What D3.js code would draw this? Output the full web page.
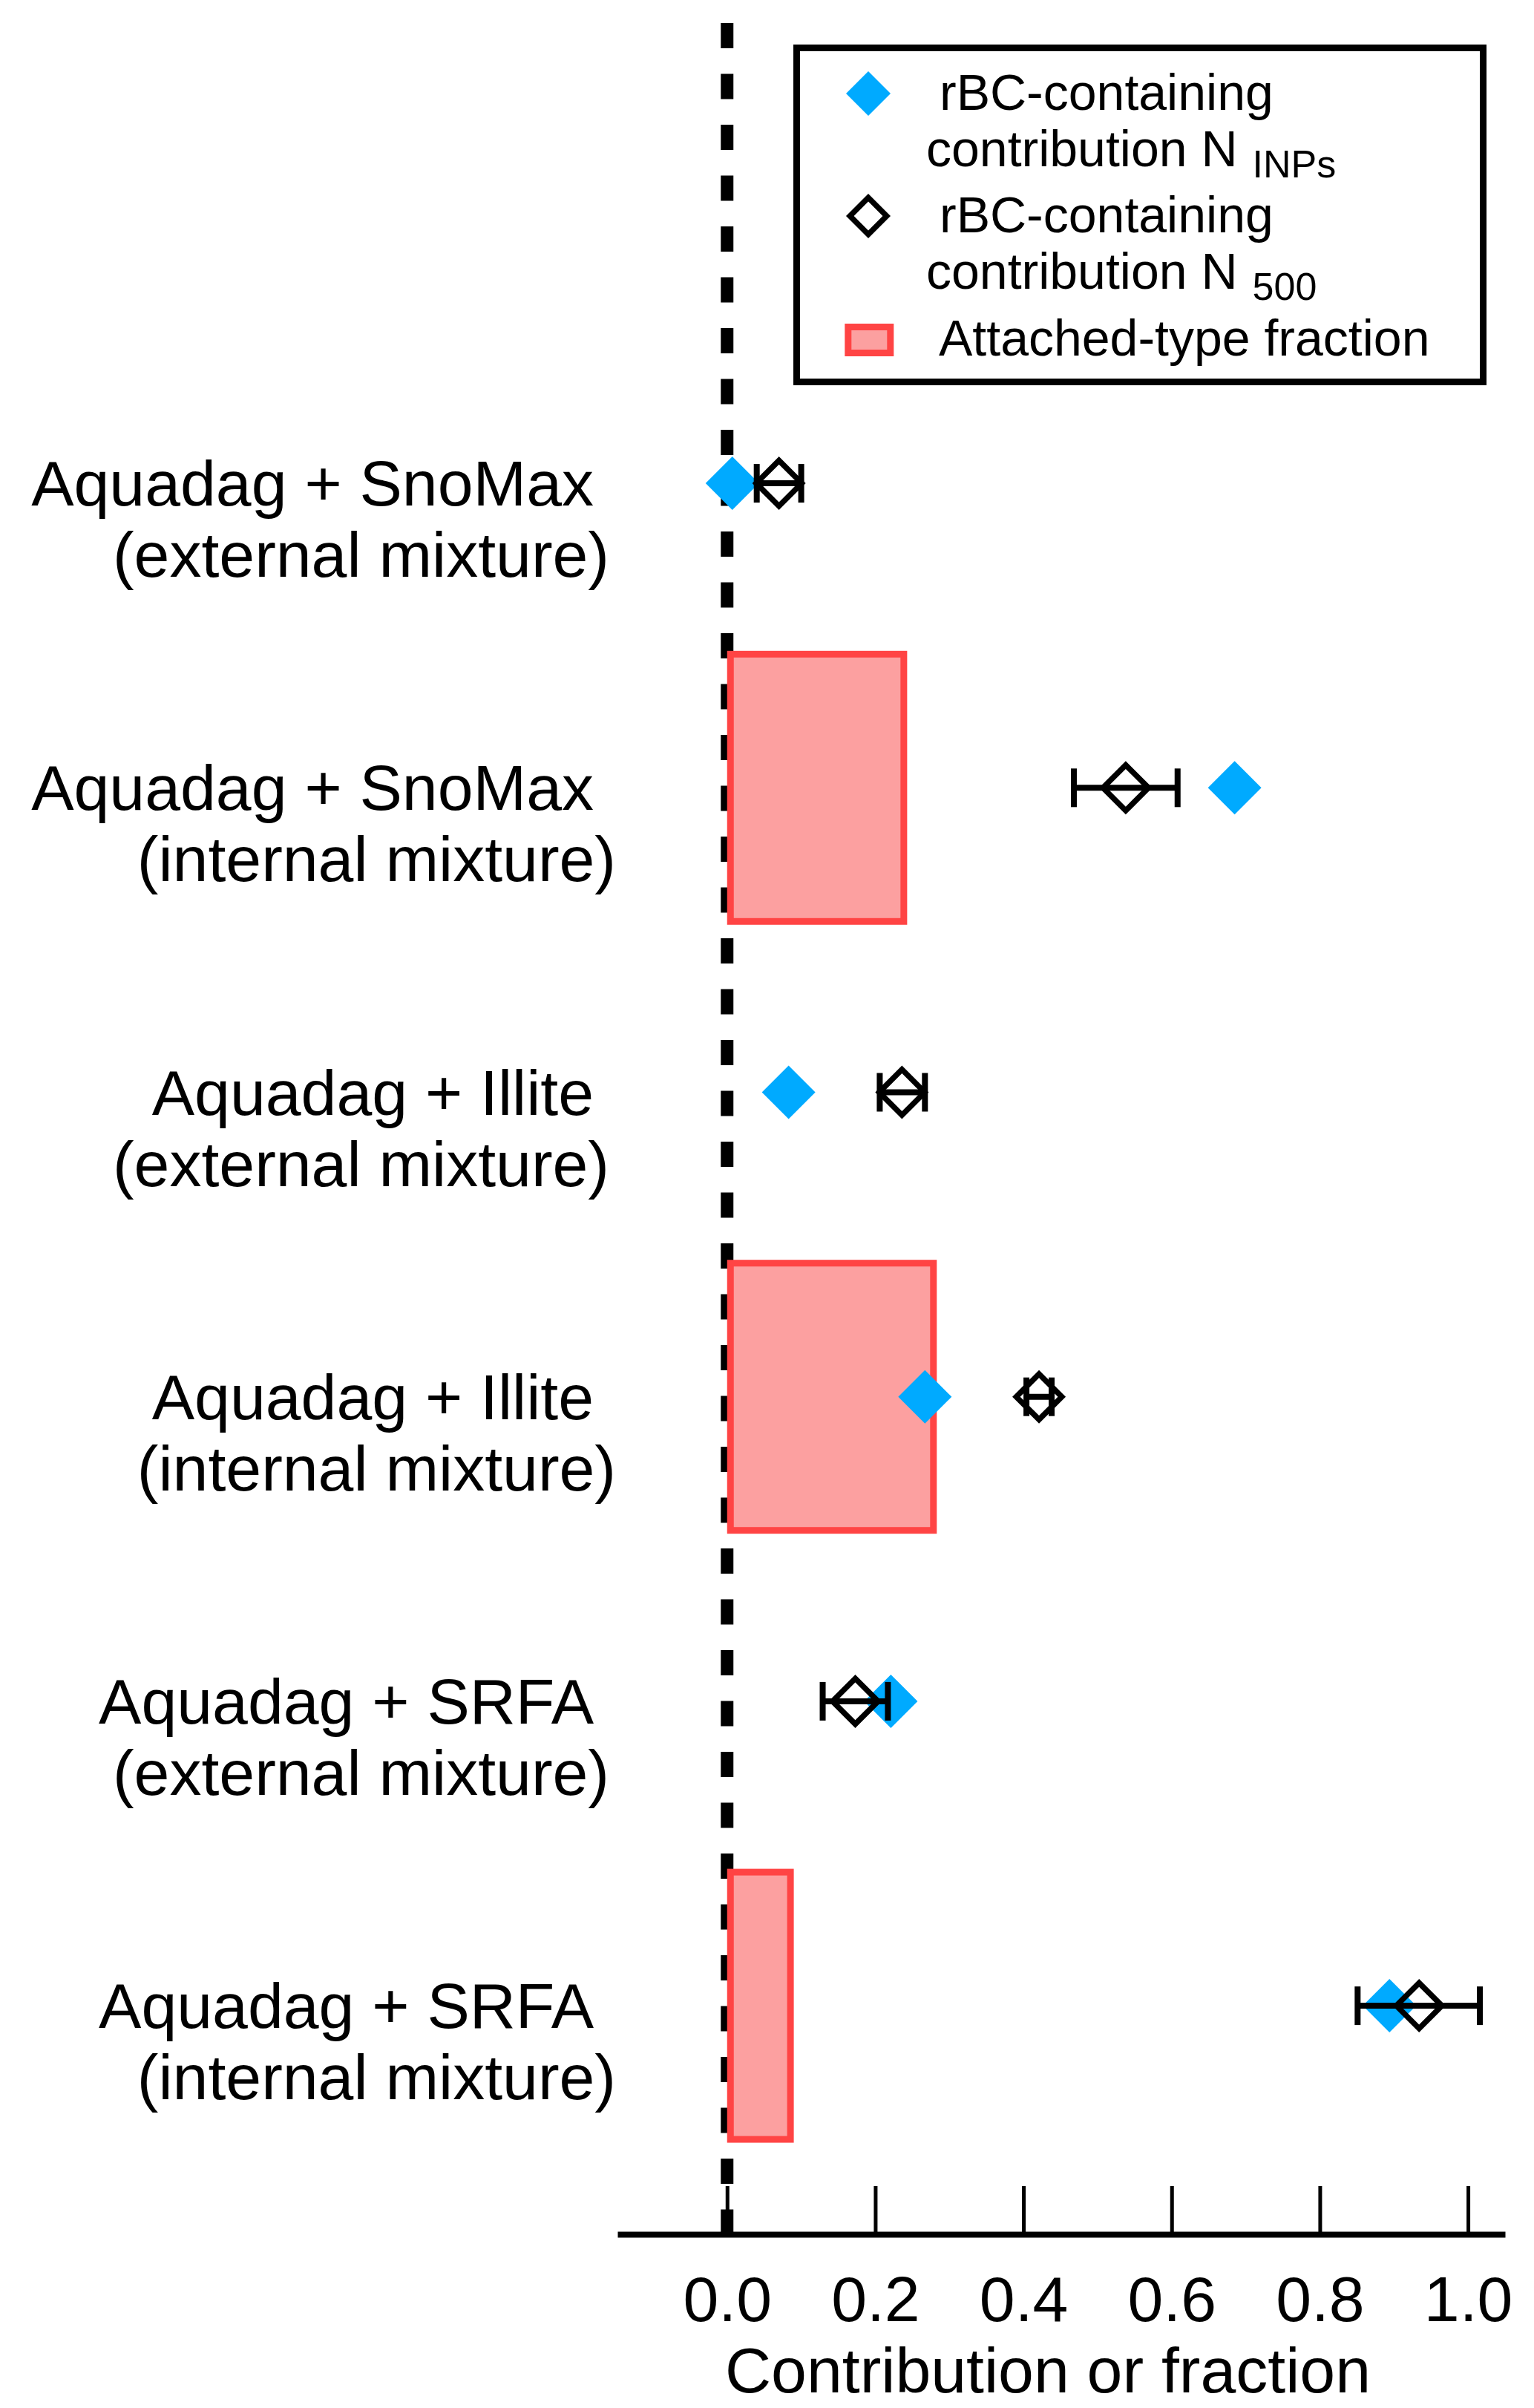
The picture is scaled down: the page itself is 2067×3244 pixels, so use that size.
<!DOCTYPE html>
<html>
<head>
<meta charset="utf-8">
<script src="https://cdn.jsdelivr.net/npm/d3@7"></script>
<style>
  body { margin: 0; background: #fff; }
  text { font-family: "Liberation Sans", Arial, sans-serif; fill: #000; }
</style>
</head>
<body>
<svg id="chart" width="2067" height="3244"></svg>
<script>
// values
var mixtures = ["Aquadag + SnoMax", "Aquadag + SnoMax", "Aquadag + Illite",
                "Aquadag + Illite", "Aquadag + SRFA", "Aquadag + SRFA"];
var mixingState = ["(external mixture)", "(internal mixture)", "(external mixture)",
                   "(internal mixture)", "(external mixture)", "(internal mixture)"];
var categories = mixtures.map((m, i) => m + " " + mixingState[i]);

var inpContribution  = [0.007, 0.685, 0.083, 0.267, 0.221, 0.894];
var n500Contribution = [0.070, 0.538, 0.236, 0.421, 0.173, 0.934];
var n500Low          = [0.040, 0.468, 0.206, 0.404, 0.129, 0.851];
var n500High         = [0.100, 0.608, 0.267, 0.438, 0.217, 1.016];
var attachedFraction = [null, 0.243, null, 0.283, null, 0.090];

var xTicks = [0, 0.2, 0.4, 0.6, 0.8, 1.0];

var blue = "#00aaff",
    barStroke = "#ff4444",
    barFill = "#fca0a0";

var svg = d3.select("#chart");

var x = d3.scaleLinear().domain([-0.148, 1.05]).range([832, 2028]);
var y = d3.scaleBand().domain(categories).range([446, 2907.2]).padding(0);
var cy = d => y(d) + y.bandwidth() / 2;
var axisY = 3010;

var rows = categories.map((c, i) => ({
    cat: c, line1: mixtures[i], line2: mixingState[i],
    inp: inpContribution[i], n500: n500Contribution[i],
    lo: n500Low[i], hi: n500High[i], frac: attachedFraction[i]
}));

/******** zero line ********/
svg.append("line")
    .attr("x1", x(0)).attr("x2", x(0))
    .attr("y1", 31).attr("y2", axisY)
    .attr("stroke", "#000")
    .attr("stroke-width", 17)
    .attr("stroke-dasharray", "34 34.5");

/******** attached-type fraction bars ********/
var bw = 9;
svg.selectAll("rect.bar")
    .data(rows.filter(d => d.frac != null))
    .enter().append("rect")
    .attr("class", "bar")
    .attr("x", x(0) + bw / 2)
    .attr("y", d => cy(d.cat) - 184.5 + bw / 2)
    .attr("width", d => x(d.frac) - x(0) - bw)
    .attr("height", 369 - bw)
    .attr("fill", barFill)
    .attr("stroke", barStroke)
    .attr("stroke-width", bw);

/******** N_INPs markers ********/
var diamondFill = d3.symbol(d3.symbolSquare, 2592);
svg.selectAll("path.inp")
    .data(rows)
    .enter().append("path")
    .attr("class", "inp")
    .attr("d", diamondFill)
    .attr("transform", d => "translate(" + x(d.inp) + "," + cy(d.cat) + ") rotate(45)")
    .attr("fill", blue);

/******** N_500 error bars ********/
var err = svg.selectAll("g.err")
    .data(rows)
    .enter().append("g")
    .attr("class", "err")
    .attr("stroke", "#000")
    .attr("stroke-width", 8);

err.append("line")
    .attr("x1", d => x(d.lo)).attr("x2", d => x(d.hi))
    .attr("y1", d => cy(d.cat)).attr("y2", d => cy(d.cat));
err.append("line")
    .attr("x1", d => x(d.lo)).attr("x2", d => x(d.lo))
    .attr("y1", d => cy(d.cat) - 26).attr("y2", d => cy(d.cat) + 26);
err.append("line")
    .attr("x1", d => x(d.hi)).attr("x2", d => x(d.hi))
    .attr("y1", d => cy(d.cat) - 26).attr("y2", d => cy(d.cat) + 26);

/******** N_500 markers ********/
var diamondOpen = d3.symbol(d3.symbolSquare, 1885);
svg.selectAll("path.n500")
    .data(rows)
    .enter().append("path")
    .attr("class", "n500")
    .attr("d", diamondOpen)
    .attr("transform", d => "translate(" + x(d.n500) + "," + cy(d.cat) + ") rotate(45)")
    .attr("fill", "none")
    .attr("stroke", "#000")
    .attr("stroke-width", 7.5);

/******** category labels ********/
var labels = svg.selectAll("g.cat")
    .data(rows)
    .enter().append("g")
    .attr("class", "cat")
    .attr("font-size", 86)
    .attr("text-anchor", "end");
labels.append("text")
    .attr("x", 800)
    .attr("y", d => cy(d.cat) + 30)
    .text(d => d.line1);
labels.append("text")
    .attr("x", d => d.line2.indexOf("internal") >= 0 ? 830 : 821)
    .attr("y", d => cy(d.cat) + 126)
    .text(d => d.line2);

/******** x axis ********/
var xAxis = d3.axisBottom(x)
    .tickValues(xTicks)
    .tickFormat(d3.format(".1f"))
    .tickSizeInner(-65)
    .tickSizeOuter(0)
    .tickPadding(56);

var gx = svg.append("g")
    .attr("transform", "translate(0," + axisY + ")")
    .call(xAxis);
gx.attr("font-size", 86).attr("font-family", null);
gx.select(".domain").attr("stroke-width", 8);
gx.selectAll(".tick line").attr("stroke-width", 5);

svg.append("text")
    .attr("x", 1412)
    .attr("y", 3223)
    .attr("text-anchor", "middle")
    .attr("font-size", 86)
    .text("Contribution or fraction");

/******** legend ********/
var lg = svg.append("g").attr("font-size", 68);

lg.append("rect")
    .attr("x", 1073.5).attr("y", 64.5)
    .attr("width", 925).attr("height", 450)
    .attr("fill", "#fff")
    .attr("stroke", "#000")
    .attr("stroke-width", 9);

lg.append("path")
    .attr("d", d3.symbol(d3.symbolSquare, 1800))
    .attr("transform", "translate(1170,126) rotate(45)")
    .attr("fill", blue);
lg.append("text").attr("x", 1266).attr("y", 148).text("rBC-containing");
var t1 = lg.append("text").attr("x", 1248).attr("y", 224);
t1.append("tspan").text("contribution N");
t1.append("tspan").attr("dx", 20).attr("dy", 15).attr("font-size", 52).text("INPs");

lg.append("path")
    .attr("d", d3.symbol(d3.symbolSquare, 1220))
    .attr("transform", "translate(1170,291) rotate(45)")
    .attr("fill", "none")
    .attr("stroke", "#000")
    .attr("stroke-width", 7.5);
lg.append("text").attr("x", 1266).attr("y", 313).text("rBC-containing");
var t2 = lg.append("text").attr("x", 1248).attr("y", 389);
t2.append("tspan").text("contribution N");
t2.append("tspan").attr("dx", 20).attr("dy", 15).attr("font-size", 52).text("500");

lg.append("rect")
    .attr("x", 1142.8).attr("y", 440.5)
    .attr("width", 57).attr("height", 35)
    .attr("fill", barFill)
    .attr("stroke", barStroke)
    .attr("stroke-width", 9);
lg.append("text").attr("x", 1265).attr("y", 479).text("Attached-type fraction");
</script>
</body>
</html>
